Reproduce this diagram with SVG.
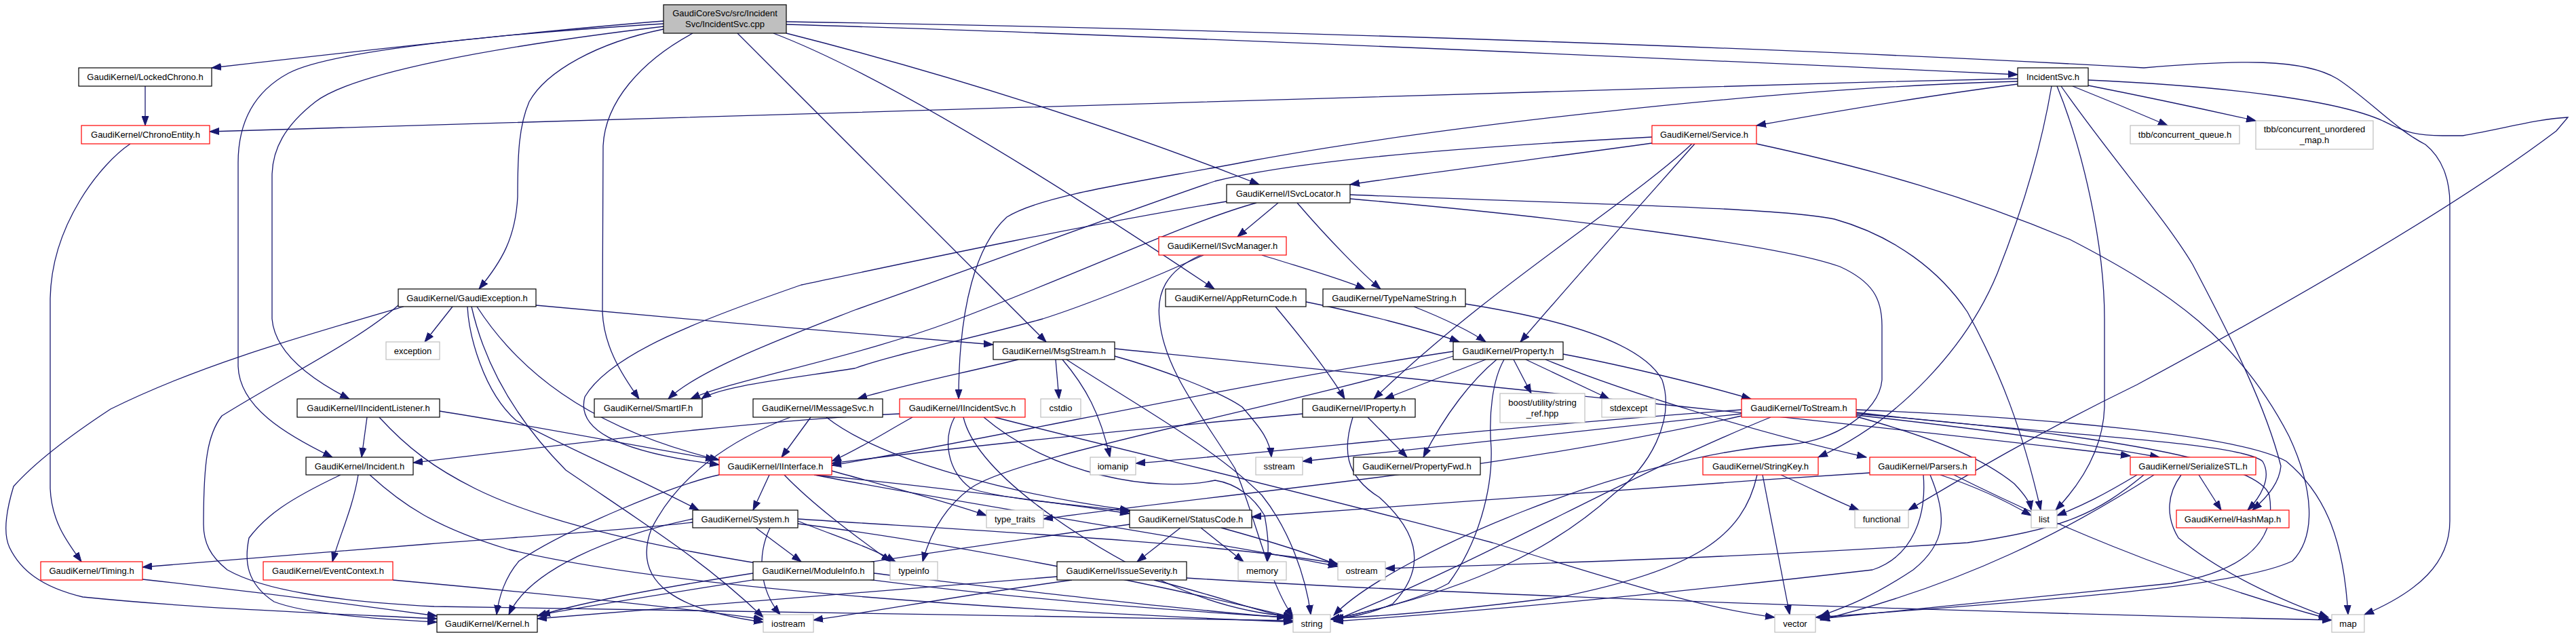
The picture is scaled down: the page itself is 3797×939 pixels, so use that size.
<svg xmlns="http://www.w3.org/2000/svg" width="3797" height="939" viewBox="0 0 3797 939">
<style>
.e{fill:none;stroke:#191970;stroke-width:1.3;marker-end:url(#a)}
rect{fill:#fff;stroke:#000;stroke-width:1.2}
.r rect{stroke:#ff0000}
.g rect{stroke:#bfbfbf}
text{font-family:"Liberation Sans",Arial,sans-serif;font-size:13px;text-anchor:middle;fill:#000}
</style>
<defs>
<marker id="a" markerWidth="15" markerHeight="11" refX="14" refY="5.5" orient="auto" markerUnits="userSpaceOnUse"><path d="M0,0.5 L14,5.5 L0,10.5 z" fill="#191970" stroke="#191970" stroke-width="1"/></marker>
</defs>
<rect x="0" y="0" width="3797" height="939" style="fill:#fff;stroke:none"/>
<g id="edges">
<path class="e" d="M978,31 C800,45 520,76 312,100"/>
<path class="e" d="M978,35 C700,52 480,78 425,108 C375,135 351,180 351,240 L351,540 C353,600 420,640 490,674"/>
<path class="e" d="M978,39 C720,70 520,108 465,150 C420,185 401,220 401,260 L401,470 C405,520 460,560 515,588"/>
<path class="e" d="M978,43 C880,63 805,105 780,150 C765,185 763,225 763,290 C760,350 740,385 706,426"/>
<path class="e" d="M1021,49 C945,90 892,150 889,215 L888,460 C890,510 915,550 942,588"/>
<path class="e" d="M1087,49 L1542,504"/>
<path class="e" d="M1140,49 C1300,110 1550,265 1790,426"/>
<path class="e" d="M1159,49 C1400,110 1650,190 1856,272"/>
<path class="e" d="M1159,36 C1700,52 2500,88 2974,110"/>
<path class="e" d="M1159,32 C1900,44 2700,74 3160,100 C3300,88 3395,86 3445,116 C3490,145 3530,190 3575,213 C3600,233 3611,265 3611,300 L3611,768 C3611,830 3565,872 3485,906"/>
<path class="e" d="M3078,118 C3300,128 3450,150 3512,178 C3540,192 3555,200 3600,200 L3630,200 C3690,190 3740,175 3785,173 L3768,193 C3600,320 3330,470 3150,567 C3000,640 2900,700 2813,752"/>
<path class="e" d="M214,127 L214,185"/>
<path class="e" d="M192,212 C150,240 76,330 74,440 L74,720 C76,770 100,800 120,828"/>
<path class="e" d="M2974,116 C2000,138 1000,172 309,194"/>
<path class="e" d="M2974,124 C2850,140 2700,165 2589,185"/>
<path class="e" d="M2974,120 C2600,130 2100,190 1844,237 C1700,265 1540,285 1484,320 C1440,360 1413,450 1413,588"/>
<path class="e" d="M3024,127 C3010,210 2985,300 2944,403 C2900,510 2800,620 2680,674"/>
<path class="e" d="M3032,127 C3070,220 3102,360 3102,470 L3102,600 C3100,660 3070,710 3030,752"/>
<path class="e" d="M3038,127 C3110,230 3190,320 3232,390 C3290,500 3340,600 3362,687 C3360,710 3345,730 3320,752"/>
<path class="e" d="M3055,127 C3100,145 3160,170 3195,185"/>
<path class="e" d="M3078,126 C3200,150 3280,168 3325,178"/>
<path class="e" d="M2435,211 C2300,230 2100,255 1990,272"/>
<path class="e" d="M2435,202 C2100,220 1900,240 1791,267 C1650,315 1450,390 1260,457 C1150,500 1030,545 985,588"/>
<path class="e" d="M2498,212 C2420,300 2330,400 2241,504"/>
<path class="e" d="M2494,212 C2400,300 2200,420 2025,588"/>
<path class="e" d="M2589,212 C2765,250 2900,290 3051,353 C3200,430 3300,500 3374,643 C3410,720 3415,790 3379,827 C3310,860 3100,880 2676,910"/>
<path class="e" d="M1852,299 C1750,327 1600,400 1400,475 C1250,530 1080,560 1018,588"/>
<path class="e" d="M1808,297 C1587,333 1300,395 1181,420 C1038,470 900,520 862,585 C850,630 900,665 1060,685"/>
<path class="e" d="M1912,299 C1960,355 2010,405 2035,426"/>
<path class="e" d="M1884,299 L1824,349"/>
<path class="e" d="M1990,287 C2300,300 2620,305 2704,323 C2793,348 2860,400 2900,460 C2949,550 2981,633 3008,752"/>
<path class="e" d="M1990,293 C2300,320 2620,360 2712,393 C2760,415 2774,440 2774,480 L2774,560 C2770,610 2700,650 2640,655 C2400,670 2050,820 1966,907"/>
<path class="e" d="M1860,376 C1920,395 1975,410 2012,426"/>
<path class="e" d="M1774,376 C1700,410 1600,450 1537,470 C1430,500 1313,523 1260,543 C1150,560 1060,570 1034,588"/>
<path class="e" d="M1770,376 C1717,400 1705,433 1709,470 C1715,543 1770,610 1820,690 C1850,760 1870,860 1906,909"/>
<path class="e" d="M1925,445 C2000,460 2100,485 2151,504"/>
<path class="e" d="M1880,452 C1920,500 1960,550 1982,588"/>
<path class="e" d="M2084,452 C2130,470 2170,490 2190,504"/>
<path class="e" d="M2160,448 C2300,470 2420,505 2450,560 C2470,620 2430,690 2380,727 C2300,800 2180,870 1961,913"/>
<path class="e" d="M1501,530 C1420,550 1320,570 1264,588"/>
<path class="e" d="M1556,530 L1561,588"/>
<path class="e" d="M1566,530 C1600,570 1622,610 1636,674"/>
<path class="e" d="M1643,525 C1709,543 1800,578 1831,600 C1860,633 1872,650 1874,674"/>
<path class="e" d="M1643,514 C2100,560 2700,620 3140,672"/>
<path class="e" d="M1572,530 C1668,593 1791,660 1860,730 C1900,780 1925,850 1932,906"/>
<path class="e" d="M667,452 L626,504"/>
<path class="e" d="M595,452 C430,500 290,540 163,603 C102,643 53,680 20,717 C6,763 6,790 14,807 C30,840 60,865 122,880 C300,898 500,905 644,912"/>
<path class="e" d="M587,450 C531,500 429,550 327,613 C306,640 300,680 300,773 C300,800 310,820 335,840 C388,870 490,886 640,894 C900,902 1500,905 1906,915"/>
<path class="e" d="M689,452 C691,493 712,577 761,620 C834,660 916,693 1030,752"/>
<path class="e" d="M703,452 C760,540 860,630 1060,678"/>
<path class="e" d="M790,450 C1000,470 1300,495 1464,508"/>
<path class="e" d="M695,452 C712,527 752,610 834,693 C957,777 1038,827 1125,910"/>
<path class="e" d="M541,615 L533,674"/>
<path class="e" d="M648,606 C800,630 950,660 1054,677"/>
<path class="e" d="M559,615 C600,660 640,690 700,720 C900,820 1400,880 1896,910"/>
<path class="e" d="M528,700 C520,750 500,790 490,828"/>
<path class="e" d="M502,700 C424,737 392,760 367,793 C360,827 363,860 404,887 C450,905 550,912 644,917"/>
<path class="e" d="M545,700 C592,743 640,777 750,810 C1000,870 1500,900 1906,917"/>
<path class="e" d="M1326,610 C1100,620 800,660 609,682"/>
<path class="e" d="M1407,615 C1390,647 1395,693 1431,720 C1480,737 1600,745 1665,754"/>
<path class="e" d="M1345,615 C1300,640 1270,660 1226,680"/>
<path class="e" d="M1466,615 C1668,667 1900,720 2200,800 C2400,860 2500,895 2616,910"/>
<path class="e" d="M1420,615 C1440,700 1600,800 1700,850 C1780,890 1850,905 1906,909"/>
<path class="e" d="M1450,615 C1550,700 1700,727 1791,708 C1823,713 1848,733 1864,760 C1870,793 1870,810 1868,828"/>
<path class="e" d="M1134,700 L1110,752"/>
<path class="e" d="M1226,694 C1300,715 1400,740 1454,760"/>
<path class="e" d="M1200,700 C1400,720 1550,740 1665,757"/>
<path class="e" d="M1156,700 C1201,747 1270,797 1313,828"/>
<path class="e" d="M1060,700 C997,713 834,780 765,827 C745,850 735,880 732,906"/>
<path class="e" d="M1201,700 C1400,740 1800,800 1972,835"/>
<path class="e" d="M1021,770 C916,782 785,790 630,802 C400,820 300,828 210,836"/>
<path class="e" d="M1021,765 C900,790 780,840 750,906"/>
<path class="e" d="M1114,778 L1181,828"/>
<path class="e" d="M1176,768 C1230,790 1280,805 1320,828"/>
<path class="e" d="M1135,778 C1115,820 1120,870 1150,906"/>
<path class="e" d="M1176,772 C1400,800 1700,860 1906,910"/>
<path class="e" d="M1176,765 C1400,780 1800,800 1972,831"/>
<path class="e" d="M1110,845 C950,870 850,890 792,908"/>
<path class="e" d="M1288,845 C1500,870 1750,900 1906,911"/>
<path class="e" d="M1558,850 C1260,873 1000,895 792,912"/>
<path class="e" d="M1580,855 C1400,880 1300,900 1199,914"/>
<path class="e" d="M1701,855 C1800,880 1850,900 1906,912"/>
<path class="e" d="M1749,852 C2200,880 3000,905 3437,914"/>
<path class="e" d="M1740,778 L1676,828"/>
<path class="e" d="M1770,778 L1833,828"/>
<path class="e" d="M1800,778 C1880,800 1940,820 1972,833"/>
<path class="e" d="M1665,773 C1400,810 1000,870 797,906"/>
<path class="e" d="M2190,530 L2041,588"/>
<path class="e" d="M2206,530 C2170,560 2130,610 2098,674"/>
<path class="e" d="M2217,530 C2200,560 2194,610 2198,660 C2200,720 2180,800 2135,860 C2080,890 2000,905 1961,913"/>
<path class="e" d="M2231,530 L2257,580"/>
<path class="e" d="M2249,530 L2372,588"/>
<path class="e" d="M2304,522 C2400,540 2520,570 2581,588"/>
<path class="e" d="M2278,530 C2400,580 2600,640 2751,674"/>
<path class="e" d="M2142,525 C1900,600 1500,670 1430,720 C1390,750 1370,790 1360,828"/>
<path class="e" d="M2142,518 C1800,570 1500,640 1226,686"/>
<path class="e" d="M1920,610 C1700,630 1400,660 1226,683"/>
<path class="e" d="M2016,615 L2074,674"/>
<path class="e" d="M1994,615 C1980,660 1980,700 2033,733 C2082,777 2110,830 2053,890 C2020,905 1990,910 1961,913"/>
<path class="e" d="M2567,604 C2200,630 1900,665 1674,683"/>
<path class="e" d="M2567,610 C2300,640 2100,660 1920,680"/>
<path class="e" d="M2567,613 C2216,693 1890,717 1538,765"/>
<path class="e" d="M2736,612 C2900,630 3050,650 3183,674"/>
<path class="e" d="M2610,615 C2400,700 2200,820 1966,915"/>
<path class="e" d="M2736,604 C3000,615 3300,640 3370,680 C3430,730 3455,800 3461,906"/>
<path class="e" d="M2736,614 C2867,650 2928,680 2969,713 C2985,730 2992,740 2994,752"/>
<path class="e" d="M2736,608 C3000,640 3300,650 3335,680 C3350,705 3330,735 3313,752"/>
<path class="e" d="M2736,610 C3100,640 3330,680 3345,730 C3355,790 3320,840 3200,860 C3000,880 2800,900 2683,912"/>
<path class="e" d="M2625,700 C2670,720 2710,740 2740,752"/>
<path class="e" d="M2598,700 L2638,906"/>
<path class="e" d="M2590,700 C2570,790 2500,840 2300,880 C2100,905 2000,910 1966,911"/>
<path class="e" d="M2756,697 C2400,720 2000,750 1845,762"/>
<path class="e" d="M2860,700 C2920,720 2960,740 2994,760"/>
<path class="e" d="M2845,700 C2870,760 2870,800 2820,840 C2760,880 2720,895 2683,908"/>
<path class="e" d="M2835,700 C2840,760 2820,820 2760,840 C2500,870 2200,900 1966,916"/>
<path class="e" d="M2880,700 C3000,760 3200,850 3432,912"/>
<path class="e" d="M3241,700 L3274,752"/>
<path class="e" d="M3160,700 C3091,757 3042,780 2900,800 C2600,820 2300,830 2042,838"/>
<path class="e" d="M3150,700 C3100,730 3070,745 3032,760"/>
<path class="e" d="M3175,700 C3050,780 2900,860 2683,914"/>
<path class="e" d="M3215,700 C3195,727 3191,760 3211,793 C3272,843 3350,880 3432,910"/>
<path class="e" d="M579,855 C800,875 1000,895 1125,913"/>
<path class="e" d="M210,854 C400,875 550,895 644,908"/>
<path class="e" d="M1195,615 L1152,674"/>
<path class="e" d="M1218,615 C1300,680 1500,730 1665,752"/>
<path class="e" d="M1165,615 C1079,647 1000,700 960,780 C930,860 1000,900 1125,917"/>
</g>
<g id="n_root"><rect x="978" y="7" width="181" height="42" style="fill:#bfbfbf"/><text x="1068.5" y="24">GaudiCoreSvc/src/Incident</text><text x="1068.5" y="40">Svc/IncidentSvc.cpp</text></g>
<g id="n_lockedchrono"><rect x="116" y="100" width="196" height="27"/><text x="214" y="118">GaudiKernel/LockedChrono.h</text></g>
<g id="n_chronoentity" class="r"><rect x="120" y="185" width="189" height="27"/><text x="214.5" y="203">GaudiKernel/ChronoEntity.h</text></g>
<g id="n_timing" class="r"><rect x="60" y="828" width="150" height="27"/><text x="135" y="846">GaudiKernel/Timing.h</text></g>
<g id="n_incidentsvch"><rect x="2974" y="100" width="104" height="27"/><text x="3026" y="118">IncidentSvc.h</text></g>
<g id="n_service" class="r"><rect x="2435" y="185" width="154" height="27"/><text x="2512" y="203">GaudiKernel/Service.h</text></g>
<g id="n_tbbqueue" class="g"><rect x="3140" y="185" width="161" height="27"/><text x="3220.5" y="203">tbb/concurrent_queue.h</text></g>
<g id="n_tbbmap" class="g"><rect x="3325" y="178" width="173" height="42"/><text x="3411.5" y="195">tbb/concurrent_unordered</text><text x="3411.5" y="211">_map.h</text></g>
<g id="n_gaudiexception"><rect x="587" y="426" width="203" height="26"/><text x="688.5" y="443.5">GaudiKernel/GaudiException.h</text></g>
<g id="n_exception" class="g"><rect x="569" y="504" width="79" height="26"/><text x="608.5" y="521.5">exception</text></g>
<g id="n_isvclocator"><rect x="1808" y="272" width="182" height="27"/><text x="1899" y="290">GaudiKernel/ISvcLocator.h</text></g>
<g id="n_isvcmanager" class="r"><rect x="1708" y="349" width="188" height="27"/><text x="1802" y="367">GaudiKernel/ISvcManager.h</text></g>
<g id="n_appreturncode"><rect x="1718" y="426" width="207" height="26"/><text x="1821.5" y="443.5">GaudiKernel/AppReturnCode.h</text></g>
<g id="n_typenamestring"><rect x="1950" y="426" width="210" height="26"/><text x="2055" y="443.5">GaudiKernel/TypeNameString.h</text></g>
<g id="n_msgstream"><rect x="1464" y="504" width="179" height="26"/><text x="1553.5" y="521.5">GaudiKernel/MsgStream.h</text></g>
<g id="n_iincidentlistener"><rect x="438" y="588" width="210" height="27"/><text x="543" y="606">GaudiKernel/IIncidentListener.h</text></g>
<g id="n_incident"><rect x="451" y="674" width="158" height="26"/><text x="530" y="691.5">GaudiKernel/Incident.h</text></g>
<g id="n_eventcontext" class="r"><rect x="388" y="828" width="191" height="27"/><text x="483.5" y="846">GaudiKernel/EventContext.h</text></g>
<g id="n_smartif"><rect x="876" y="588" width="159" height="27"/><text x="955.5" y="606">GaudiKernel/SmartIF.h</text></g>
<g id="n_imessagesvc"><rect x="1110" y="588" width="191" height="27"/><text x="1205.5" y="606">GaudiKernel/IMessageSvc.h</text></g>
<g id="n_iincidentsvc" class="r"><rect x="1326" y="588" width="185" height="27"/><text x="1418.5" y="606">GaudiKernel/IIncidentSvc.h</text></g>
<g id="n_cstdio" class="g"><rect x="1534" y="588" width="59" height="27"/><text x="1563.5" y="606">cstdio</text></g>
<g id="n_iomanip" class="g"><rect x="1607" y="674" width="67" height="26"/><text x="1640.5" y="691.5">iomanip</text></g>
<g id="n_sstream" class="g"><rect x="1851" y="674" width="69" height="26"/><text x="1885.5" y="691.5">sstream</text></g>
<g id="n_property"><rect x="2142" y="504" width="162" height="26"/><text x="2223" y="521.5">GaudiKernel/Property.h</text></g>
<g id="n_iproperty"><rect x="1920" y="588" width="166" height="27"/><text x="2003" y="606">GaudiKernel/IProperty.h</text></g>
<g id="n_stringref" class="g"><rect x="2211" y="580" width="125" height="43"/><text x="2273.5" y="597.5">boost/utility/string</text><text x="2273.5" y="613.5">_ref.hpp</text></g>
<g id="n_stdexcept" class="g"><rect x="2361" y="588" width="79" height="27"/><text x="2400.5" y="606">stdexcept</text></g>
<g id="n_propertyfwd"><rect x="1995" y="674" width="187" height="26"/><text x="2088.5" y="691.5">GaudiKernel/PropertyFwd.h</text></g>
<g id="n_tostream" class="r"><rect x="2567" y="588" width="169" height="27"/><text x="2651.5" y="606">GaudiKernel/ToStream.h</text></g>
<g id="n_stringkey" class="r"><rect x="2510" y="674" width="170" height="26"/><text x="2595" y="691.5">GaudiKernel/StringKey.h</text></g>
<g id="n_parsers" class="r"><rect x="2756" y="674" width="156" height="26"/><text x="2834" y="691.5">GaudiKernel/Parsers.h</text></g>
<g id="n_serializestl" class="r"><rect x="3140" y="674" width="185" height="26"/><text x="3232.5" y="691.5">GaudiKernel/SerializeSTL.h</text></g>
<g id="n_iinterface" class="r"><rect x="1060" y="674" width="166" height="26"/><text x="1143" y="691.5">GaudiKernel/IInterface.h</text></g>
<g id="n_typetraits" class="g"><rect x="1454" y="752" width="84" height="26"/><text x="1496" y="769.5">type_traits</text></g>
<g id="n_statuscode"><rect x="1665" y="752" width="180" height="26"/><text x="1755" y="769.5">GaudiKernel/StatusCode.h</text></g>
<g id="n_system"><rect x="1021" y="752" width="155" height="26"/><text x="1098.5" y="769.5">GaudiKernel/System.h</text></g>
<g id="n_moduleinfo"><rect x="1110" y="828" width="178" height="27"/><text x="1199" y="846">GaudiKernel/ModuleInfo.h</text></g>
<g id="n_typeinfo" class="g"><rect x="1312" y="828" width="70" height="27"/><text x="1347" y="846">typeinfo</text></g>
<g id="n_issueseverity"><rect x="1558" y="828" width="191" height="27"/><text x="1653.5" y="846">GaudiKernel/IssueSeverity.h</text></g>
<g id="n_memory" class="g"><rect x="1825" y="828" width="71" height="27"/><text x="1860.5" y="846">memory</text></g>
<g id="n_ostream" class="g"><rect x="1972" y="828" width="70" height="27"/><text x="2007" y="846">ostream</text></g>
<g id="n_functional" class="g"><rect x="2734" y="752" width="79" height="26"/><text x="2773.5" y="769.5">functional</text></g>
<g id="n_list" class="g"><rect x="2994" y="752" width="38" height="26"/><text x="3013" y="769.5">list</text></g>
<g id="n_hashmap" class="r"><rect x="3208" y="752" width="166" height="26"/><text x="3291" y="769.5">GaudiKernel/HashMap.h</text></g>
<g id="n_kernel"><rect x="644" y="906" width="148" height="26"/><text x="718" y="923.5">GaudiKernel/Kernel.h</text></g>
<g id="n_iostream" class="g"><rect x="1125" y="906" width="74" height="26"/><text x="1162" y="923.5">iostream</text></g>
<g id="n_string" class="g"><rect x="1906" y="906" width="55" height="26"/><text x="1933.5" y="923.5">string</text></g>
<g id="n_vector" class="g"><rect x="2616" y="906" width="60" height="26"/><text x="2646" y="923.5">vector</text></g>
<g id="n_map" class="g"><rect x="3437" y="906" width="48" height="26"/><text x="3461" y="923.5">map</text></g>
</svg>
